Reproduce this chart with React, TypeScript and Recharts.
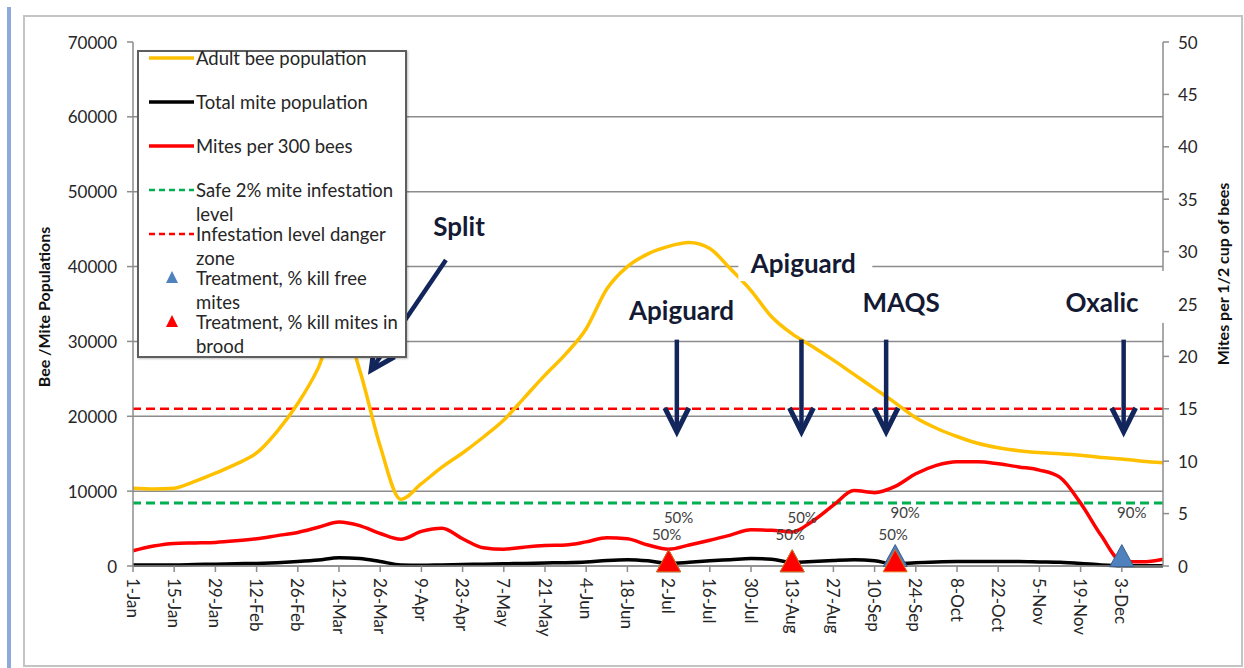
import React from 'react';
import {
  ComposedChart,
  Line,
  Scatter,
  XAxis,
  YAxis,
  CartesianGrid,
  ReferenceLine,
  ReferenceDot,
} from 'recharts';

// weekly dates, labelled every second week on the axis
const weeks = [
  '1-Jan', '8-Jan', '15-Jan', '22-Jan', '29-Jan', '5-Feb', '12-Feb', '19-Feb', '26-Feb', '5-Mar',
  '12-Mar', '19-Mar', '26-Mar', '2-Apr', '9-Apr', '16-Apr', '23-Apr', '30-Apr', '7-May', '14-May',
  '21-May', '28-May', '4-Jun', '11-Jun', '18-Jun', '25-Jun', '2-Jul', '9-Jul', '16-Jul', '23-Jul',
  '30-Jul', '6-Aug', '13-Aug', '20-Aug', '27-Aug', '3-Sep', '10-Sep', '17-Sep', '24-Sep', '1-Oct',
  '8-Oct', '15-Oct', '22-Oct', '29-Oct', '5-Nov', '12-Nov', '19-Nov', '26-Nov', '3-Dec', '10-Dec',
  '17-Dec',
];

const adultBees = [
  10400, 10300, 10400, 11300, 12400, 13600, 15100, 18000, 21700, 26500,
  33500, 26200, 16000, 8900, 11000, 13200, 15100, 17200, 19500, 22500,
  25500, 28300, 31700, 37000, 40000, 41700, 42700, 43200, 42400, 39700,
  36800, 33300, 31000, 29300, 27500, 25600, 23700, 21800, 19800, 18400,
  17300, 16400, 15800, 15400, 15150, 15000, 14800, 14500, 14300, 14000,
  13800,
];

const totalMites = [
  150, 150, 150, 200, 250, 300, 350, 450, 600, 800,
  1100, 1000, 600, 150, 100, 150, 200, 250, 300, 350,
  400, 450, 550, 750, 850, 700, 350, 500, 700, 850,
  1000, 900, 500, 600, 750, 850, 700, 250, 450, 550,
  600, 600, 600, 600, 550, 500, 350, 150, 50, 50,
  50,
];

const mitesPer300 = [
  1.45, 1.9, 2.15, 2.2, 2.25, 2.4, 2.6, 2.9, 3.2, 3.7,
  4.2, 3.85, 3.1, 2.55, 3.3, 3.6, 2.6, 1.75, 1.6, 1.8,
  1.95, 2.0, 2.3, 2.7, 2.6, 2.0, 1.6, 2.0, 2.45, 2.95,
  3.45, 3.4, 3.25, 4.3, 5.8, 7.2, 7.0, 7.6, 8.8, 9.6,
  9.95, 9.95, 9.75, 9.45, 9.15, 8.45, 6.0, 2.9, 0.45, 0.4,
  0.65,
];

const safeLevel = 6;
const dangerLevel = 15;

// treatments
const freeWeeks = [26, 32, 37, 48];
const freeMarks = [0.4, 0.4, 0.9, 0.9];
const freeKill = ['50%', '50%', '90%', '90%'];

const broodWeeks = [26, 32, 37];
const broodMarks = [0.4, 0.4, 0.4];
const broodKill = ['50%', '50%', '50%'];

const leftTicks = [0, 10000, 20000, 30000, 40000, 50000, 60000, 70000];
const rightTicks = [0, 5, 10, 15, 20, 25, 30, 35, 40, 45, 50];

// callouts, in week / right-axis units
const notes = [
  { text: 'Split', wk: 15.83, v: 32.4, box: null },
  { text: 'Apiguard', wk: 26.63, v: 24.4, box: null },
  { text: 'Apiguard', wk: 32.54, v: 28.9, box: { w: 134, h: 36, dx: 2, dy: 0 } },
  { text: 'MAQS', wk: 37.29, v: 25.2, box: null },
  { text: 'Oxalic', wk: 47.04, v: 25.2, box: { w: 130, h: 52, dx: 3, dy: -5 } },
];
const arrows = [
  { from: [15.19, 29.2], to: [11.56, 18.7] },
  { from: [26.4, 21.6], to: [26.4, 12.8] },
  { from: [32.45, 21.6], to: [32.45, 12.8] },
  { from: [36.56, 21.6], to: [36.56, 12.8] },
  { from: [48.09, 21.6], to: [48.09, 12.8] },
];

const NAVY = '#13265c';
const FONT = 'Lato, "Open Sans", sans-serif';

const legendItems = [
  { name: 'Adult bee population', color: '#ffc000', kind: 'line' },
  { name: 'Total mite population', color: '#000000', kind: 'line' },
  { name: 'Mites per 300 bees', color: '#ff0000', kind: 'line' },
  { name: 'Safe 2% mite infestation level', color: '#00b050', kind: 'dash' },
  { name: 'Infestation level danger zone', color: '#ff0000', kind: 'dash' },
  { name: 'Treatment, % kill free mites', color: '#4f81bd', kind: 'tri' },
  { name: 'Treatment, % kill mites in brood', color: '#ff0000', kind: 'tri' },
];

const data = weeks.map((w, i) => ({
  wk: i,
  bees: adultBees[i],
  mites: totalMites[i],
  per300: mitesPer300[i],
}));
const freeData = freeWeeks.map((wk, i) => ({ wk, v: freeMarks[i], label: freeKill[i] }));
const broodData = broodWeeks.map((wk, i) => ({ wk, v: broodMarks[i], label: broodKill[i] }));
const xTicks = weeks.map((_, i) => i).filter((i) => i % 2 === 0 && i <= 48);

function XTick({ x, y, payload }: any) {
  return (
    <text x={x} y={y} transform={`rotate(90 ${x} ${y})`} textAnchor="start"
      dominantBaseline="central" fontSize={17} fill="#262626" fontFamily={FONT}>
      {weeks[payload.value]}
    </text>
  );
}

function YTick({ x, y, payload, anchor }: any) {
  return (
    <text x={x} y={y} textAnchor={anchor} dominantBaseline="central" fontSize={17}
      fill="#262626" fontFamily={FONT}>
      {payload.value}
    </text>
  );
}

// label sits a fixed distance above the marker's base so the stacked labels line up
const triangle = (fill: string, edge: string, ldx: number, labelAbove: number) => (p: any) => {
  const { cx, cy, payload } = p;
  return (
    <g>
      <polygon points={`${cx},${cy - 12} ${cx + 12},${cy + 10} ${cx - 12},${cy + 10}`}
        fill={fill} stroke={edge} strokeWidth={1} />
      <text x={cx + ldx} y={cy + 10 - labelAbove} textAnchor="middle" dominantBaseline="central"
        fontSize={15} fill="#404040" fontFamily={FONT}>
        {payload.label}
      </text>
    </g>
  );
};

function arrowShape(p: any) {
  const { x1, y1, x2, y2 } = p;
  const len = Math.hypot(x2 - x1, y2 - y1) || 1;
  const ux = (x2 - x1) / len;
  const uy = (y2 - y1) / len;
  const nx = -uy;
  const ny = ux;
  const bx = x2 - ux * 24;
  const by = y2 - uy * 24;
  return (
    <g>
      <line x1={x1} y1={y1} x2={x2 - ux * 3} y2={y2 - uy * 3} stroke={NAVY} strokeWidth={4.5} />
      <polyline
        points={`${bx + nx * 12},${by + ny * 12} ${x2},${y2} ${bx - nx * 12},${by - ny * 12}`}
        fill="none" stroke={NAVY} strokeWidth={5} strokeLinejoin="miter" />
    </g>
  );
}

const noteShape = (note: any) => (p: any) => {
  const { cx, cy } = p;
  const b = note.box;
  return (
    <g>
      {b && (
        <rect x={cx - b.w / 2 + b.dx} y={cy - b.h / 2 + b.dy} width={b.w} height={b.h} fill="#ffffff" />
      )}
      <text x={cx} y={cy} textAnchor="middle" dominantBaseline="central" fontSize={26}
        fontWeight="bold" fill="#141a33" fontFamily={FONT}>
        {note.text}
      </text>
    </g>
  );
};

function LegendBox() {
  return (
    <div style={{
      position: 'absolute', left: 137, top: 50, width: 266, height: 304,
      border: '2px solid #5e5e5e', background: '#ffffff', fontFamily: FONT,
      boxShadow: '1px 1px 2px rgba(0,0,0,0.25)',
    }}>
      {legendItems.map((it, i) => (
        <div key={it.name} style={{ position: 'absolute', left: 0, top: 44 * i - 6, width: 262 }}>
          <svg width={56} height={24} style={{ position: 'absolute', left: 6, top: 0 }}>
            {it.kind === 'line' && (
              <line x1={4} y1={12} x2={49} y2={12} stroke={it.color} strokeWidth={3.5} />
            )}
            {it.kind === 'dash' && (
              <line x1={4} y1={12} x2={49} y2={12} stroke={it.color} strokeWidth={2.5}
                strokeDasharray="6 4" />
            )}
            {it.kind === 'tri' && (
              <polygon points="27,5 33,17 21,17" fill={it.color} />
            )}
          </svg>
          <div style={{
            position: 'absolute', left: 57, top: 0, width: 210, fontSize: 18.5,
            lineHeight: '24px', color: '#262626', whiteSpace: 'normal',
          }}>
            {it.name}
          </div>
        </div>
      ))}
    </div>
  );
}

export default function App() {
  return (
    <div style={{ position: 'absolute', left: 0, top: 0, width: 1244, height: 668, background: '#fff' }}>
      <div style={{ position: 'absolute', left: 7, top: 7, width: 4, height: 661, background: '#8eaadb' }} />
      <div style={{
        position: 'absolute', left: 23, top: 15, width: 1216, height: 648,
        border: '2px solid #c4c4c4',
      }} />
      <div style={{ position: 'absolute', left: 0, top: 0 }}>
        <ComposedChart width={1244} height={668} data={data}
          margin={{ top: 42, right: 19, bottom: 42, left: 0 }}
          style={{ fontFamily: FONT }}>
          <CartesianGrid yAxisId="left" vertical={false} stroke="#8c8c8c" strokeWidth={1.5}
            horizontalValues={[0, 10000, 20000, 30000, 40000, 50000, 60000]} />
          <XAxis dataKey="wk" type="number" domain={[0, 50]} ticks={xTicks} interval={0}
            height={60} tickSize={6} tickMargin={6} tick={<XTick />}
            stroke="#8c8c8c" strokeWidth={1.5} allowDecimals={false} />
          <YAxis yAxisId="left" domain={[0, 70000]} ticks={leftTicks} width={133}
            tickSize={6} tickMargin={10} tick={<YTick anchor="end" />}
            stroke="#8c8c8c" strokeWidth={1.5}
            label={(p: any) => {
              const vb = p.viewBox;
              const cx = vb.x + 43;
              const cy = vb.y + vb.height / 2 + 3;
              return (
                <text x={cx} y={cy} transform={`rotate(-90 ${cx} ${cy})`} textAnchor="middle"
                  dominantBaseline="central" fontSize={16} fontWeight="bold" fill="#111"
                  fontFamily={FONT}>
                  Bee /Mite Populations
                </text>
              );
            }} />
          <YAxis yAxisId="right" orientation="right" domain={[0, 50]} ticks={rightTicks} width={62}
            tickSize={6} tickMargin={9} tick={<YTick anchor="start" />}
            stroke="#8c8c8c" strokeWidth={1.5}
            label={(p: any) => {
              const vb = p.viewBox;
              const cx = vb.x + 59;
              const cy = vb.y + vb.height / 2 - 30;
              return (
                <text x={cx} y={cy} transform={`rotate(-90 ${cx} ${cy})`} textAnchor="middle"
                  dominantBaseline="central" fontSize={16} fontWeight="bold" fill="#111"
                  fontFamily={FONT}>
                  Mites per 1/2 cup of bees
                </text>
              );
            }} />

          <ReferenceLine yAxisId="right" y={safeLevel} stroke="#00b050" strokeWidth={3}
            strokeDasharray="9 5" />
          <ReferenceLine yAxisId="right" y={dangerLevel} stroke="#ff0000" strokeWidth={2.5}
            strokeDasharray="9 5" />

          <Line yAxisId="left" dataKey="mites" name={legendItems[1].name} type="monotone"
            stroke="#000000" strokeWidth={3.5} dot={false} isAnimationActive={false} />
          <Line yAxisId="left" dataKey="bees" name={legendItems[0].name} type="monotone"
            stroke="#ffc000" strokeWidth={3.5} dot={false} isAnimationActive={false} />
          <Line yAxisId="right" dataKey="per300" name={legendItems[2].name} type="monotone"
            stroke="#ff0000" strokeWidth={3.5} dot={false} isAnimationActive={false} />

          <Scatter yAxisId="right" data={freeData} dataKey="v" name={legendItems[5].name}
            shape={triangle('#4f81bd', '#3a5f8f', 10, 55)} isAnimationActive={false} />
          <Scatter yAxisId="right" data={broodData} dataKey="v" name={legendItems[6].name}
            shape={triangle('#ff0000', '#e46c0a', -2, 38)} isAnimationActive={false} />

          {arrows.map((a, i) => (
            <ReferenceLine key={`arrow-${i}`} yAxisId="right" zIndex={1000}
              segment={[{ x: a.from[0], y: a.from[1] }, { x: a.to[0], y: a.to[1] }]}
              shape={arrowShape} />
          ))}
          {notes.map((n, i) => (
            <ReferenceDot key={`note-${i}`} yAxisId="right" x={n.wk} y={n.v} r={1}
              zIndex={1000} shape={noteShape(n)} />
          ))}
        </ComposedChart>
      </div>
      <LegendBox />
    </div>
  );
}
